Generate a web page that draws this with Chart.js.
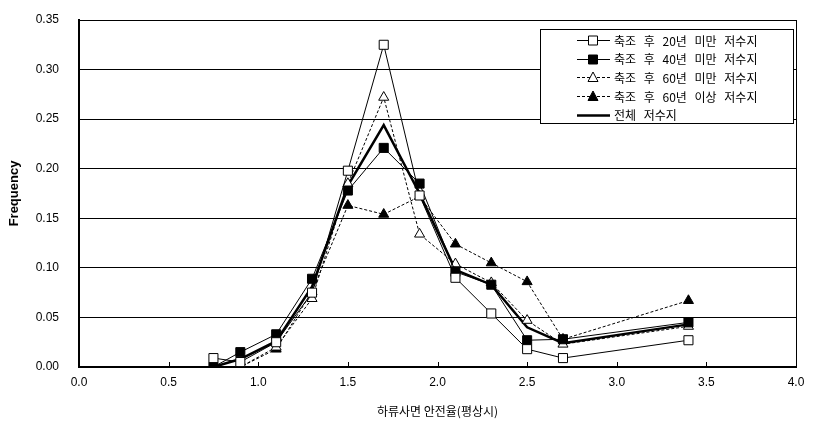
<!DOCTYPE html>
<html>
<head>
<meta charset="utf-8">
<script src="https://cdn.jsdelivr.net/npm/chart.js@4.4.1/dist/chart.umd.min.js"></script>
<style>
html,body{margin:0;padding:0;background:#fff}
</style>
</head>
<body>
<canvas id="chart" width="820" height="445"></canvas>
<script>
// safety factor classes (x) and frequency per group
const safetyFactor = [0.75, 0.9, 1.1, 1.3, 1.5, 1.7, 1.9, 2.1, 2.3, 2.5, 2.7, 3.4];

const under20 = [0.009, 0.005, 0.025, 0.075, 0.198, 0.325, 0.173, 0.090, 0.054, 0.018, 0.009, 0.027];
const under40 = [0.000, 0.015, 0.033, 0.089, 0.178, 0.221, 0.185, 0.096, 0.083, 0.027, 0.028, 0.045];
const under60 = [0.000, 0.000, 0.020, 0.069, 0.185, 0.272, 0.134, 0.104, 0.085, 0.047, 0.023, 0.041];
const over60  = [0.000, 0.000, 0.018, 0.076, 0.163, 0.154, 0.172, 0.124, 0.105, 0.086, 0.028, 0.067];
const allRes  = [0.000, 0.008, 0.026, 0.081, 0.183, 0.244, 0.175, 0.098, 0.083, 0.040, 0.024, 0.043];

const seriesNames = [
    '축조 후 20년 미만 저수지',
    '축조 후 40년 미만 저수지',
    '축조 후 60년 미만 저수지',
    '축조 후 60년 이상 저수지',
    '전체 저수지'
];

const xTitle = '하류사면 안전율(평상시)';
const yTitle = 'Frequency';

function pts(arr){
    return safetyFactor.map((x, i) => ({x: x, y: arr[i]}));
}

const tickFont = {family: 'Liberation Sans, Arial, sans-serif', size: 12};

// marker used in the legend
function marker(ctx, style, filled, x, y){
    ctx.save();
    ctx.fillStyle = filled ? '#000' : '#fff';
    ctx.strokeStyle = '#000';
    ctx.lineWidth = 1;
    ctx.setLineDash([]);
    ctx.beginPath();
    if (style === 'rect'){
        ctx.rect(x - 4.5, y - 4.5, 9, 9);
    } else {
        ctx.moveTo(x, y - 5.5);
        ctx.lineTo(x + 5, y + 4);
        ctx.lineTo(x - 5, y + 4);
        ctx.closePath();
    }
    ctx.fill();
    ctx.stroke();
    ctx.restore();
}

const framePlugin = {
    id: 'framePlugin',
    afterDraw(chart){
        const ctx = chart.ctx;
        const a = chart.chartArea;
        const xs = chart.scales.x;
        ctx.save();
        ctx.strokeStyle = '#000';
        ctx.lineWidth = 1;
        ctx.setLineDash([]);
        // right border
        ctx.beginPath();
        ctx.moveTo(a.right + 0.5, a.top);
        ctx.lineTo(a.right + 0.5, a.bottom);
        ctx.stroke();
        // inside ticks on x axis
        xs.ticks.forEach(t => {
            const px = Math.round(xs.getPixelForValue(t.value)) + 0.5;
            ctx.beginPath();
            ctx.moveTo(px, a.bottom);
            ctx.lineTo(px, a.bottom - 5);
            ctx.stroke();
        });

        // legend box
        const bx = 540, by = 29, bw = 253, bh = 94;
        ctx.fillStyle = '#fff';
        ctx.fillRect(bx, by, bw, bh);
        ctx.strokeRect(bx + 0.5, by + 0.5, bw, bh);

        ctx.font = '12px "Noto Sans CJK KR", sans-serif';
        ctx.textBaseline = 'middle';
        ctx.fillStyle = '#000';
        try { ctx.wordSpacing = '5px'; } catch(e) {}

        chart.data.datasets.forEach((ds, i) => {
            const ly = 40 + i * 18.7;
            ctx.save();
            ctx.strokeStyle = '#000';
            ctx.lineWidth = ds.borderWidth;
            ctx.setLineDash(ds.borderDash || []);
            ctx.beginPath();
            ctx.moveTo(577, Math.round(ly) + 0.5);
            ctx.lineTo(610, Math.round(ly) + 0.5);
            ctx.stroke();
            ctx.restore();
            if (ds.pointRadius > 0){
                marker(ctx, ds.pointStyle, ds.pointBackgroundColor === '#000', 593, Math.round(ly) + 0.5);
            }
            ctx.fillText(ds.label, 614, ly + 1);
        });
        ctx.restore();
    }
};

new Chart(
document.getElementById('chart'),
{
    type: 'line',

    data: {
        datasets: [
            {
                label: seriesNames[0],
                data: pts(under20),
                borderColor: '#000',
                borderWidth: 1,
                pointStyle: 'rect',
                pointRadius: 6.4,
                pointBackgroundColor: '#fff',
                pointBorderColor: '#000',
                pointBorderWidth: 1
            },
            {
                label: seriesNames[1],
                data: pts(under40),
                borderColor: '#000',
                borderWidth: 1,
                pointStyle: 'rect',
                pointRadius: 6.4,
                pointBackgroundColor: '#000',
                pointBorderColor: '#000',
                pointBorderWidth: 1
            },
            {
                label: seriesNames[2],
                data: pts(under60),
                borderColor: '#000',
                borderWidth: 1,
                borderDash: [3, 2],
                pointStyle: 'triangle',
                pointRadius: 5.8,
                pointBackgroundColor: '#fff',
                pointBorderColor: '#000',
                pointBorderWidth: 1
            },
            {
                label: seriesNames[3],
                data: pts(over60),
                borderColor: '#000',
                borderWidth: 1,
                borderDash: [3, 2],
                pointStyle: 'triangle',
                pointRadius: 5.8,
                pointBackgroundColor: '#000',
                pointBorderColor: '#000',
                pointBorderWidth: 1
            },
            {
                label: seriesNames[4],
                data: pts(allRes),
                borderColor: '#000',
                borderWidth: 2.5,
                pointRadius: 0
            }
        ]
    },

    options: {
        responsive: false,
        animation: false,
        devicePixelRatio: 1,
        layout: {
            padding: {left: 7, top: 20, right: 24, bottom: 26}
        },
        plugins: {
            legend: {display: false},
            tooltip: {enabled: false}
        },
        scales: {
            x: {
                type: 'linear',
                min: 0,
                max: 4,
                ticks: {
                    stepSize: 0.5,
                    color: '#000',
                    font: tickFont,
                    padding: 8,
                    maxRotation: 0,
                    callback: v => v.toFixed(1)
                },
                grid: {display: true, drawOnChartArea: false, drawTicks: false},
                border: {color: '#000', width: 2},
                title: {
                    display: true,
                    text: xTitle,
                    color: '#000',
                    font: {family: '"Noto Sans CJK KR", sans-serif', size: 12},
                    padding: 0
                },
                afterFit: s => {
                    s.height = 52;
                    s.paddingLeft = 0;
                    s.paddingRight = 0;
                }
            },
            y: {
                min: 0,
                max: 0.35,
                ticks: {
                    stepSize: 0.05,
                    color: '#000',
                    font: tickFont,
                    padding: 20,
                    callback: v => v.toFixed(2)
                },
                grid: {color: '#000', lineWidth: 1, drawTicks: false},
                border: {color: '#000', width: 2},
                title: {
                    display: true,
                    text: yTitle,
                    color: '#000',
                    font: {family: 'Liberation Sans Narrow, Liberation Sans, Arial, sans-serif', size: 13, weight: 'bold'},
                    padding: 0
                },
                afterFit: s => {
                    s.width = 72;
                    s.paddingTop = 0;
                    s.paddingBottom = 0;
                }
            }
        }
    },

    plugins: [framePlugin]
});
</script>
</body>
</html>
